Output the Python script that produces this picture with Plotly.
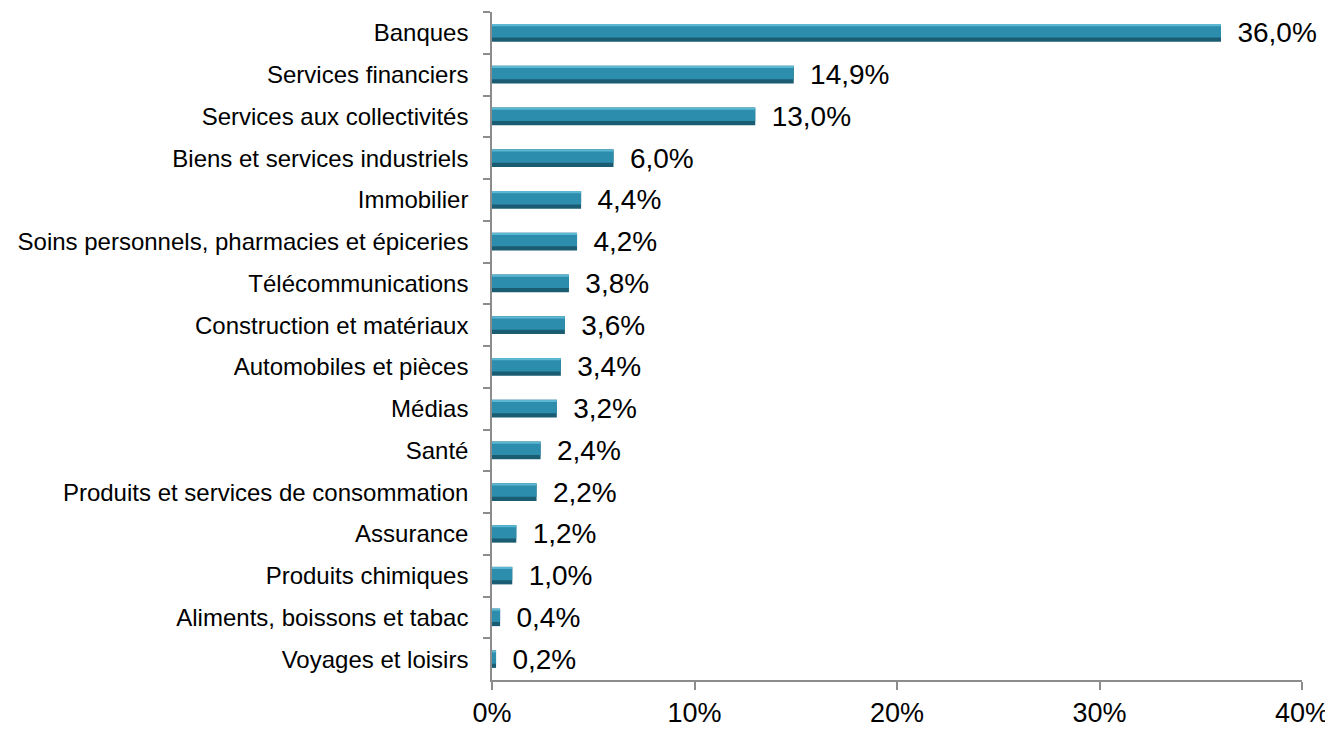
import plotly.graph_objects as go

categories = [
    "Banques",
    "Services financiers",
    "Services aux collectivités",
    "Biens et services industriels",
    "Immobilier",
    "Soins personnels, pharmacies et épiceries",
    "Télécommunications",
    "Construction et matériaux",
    "Automobiles et pièces",
    "Médias",
    "Santé",
    "Produits et services de consommation",
    "Assurance",
    "Produits chimiques",
    "Aliments, boissons et tabac",
    "Voyages et loisirs",
]
values = [36.0, 14.9, 13.0, 6.0, 4.4, 4.2, 3.8, 3.6, 3.4, 3.2, 2.4, 2.2, 1.2, 1.0, 0.4, 0.2]
x_ticks = [0, 10, 20, 30, 40]
x_tick_labels = ["0%", "10%", "20%", "30%", "40%"]

fig = go.Figure()
# dark base (bevel edge)
fig.add_trace(go.Bar(
    y=categories, x=values, orientation="h", width=0.42, offset=-0.21,
    marker=dict(color="#1A5D73", line=dict(width=0)),
    hoverinfo="skip", showlegend=False, cliponaxis=False,
))
# face
fig.add_trace(go.Bar(
    y=categories, x=values, orientation="h", width=0.30, offset=-0.19,
    marker=dict(color="#2C8DAD", line=dict(width=0)),
    hoverinfo="skip", showlegend=False, cliponaxis=False,
))
# top highlight + labels
fig.add_trace(go.Bar(
    y=categories, x=values, orientation="h", width=0.05, offset=-0.21,
    marker=dict(color="#5CB7D3", line=dict(width=0)),
    showlegend=False, cliponaxis=False,
))
# labels (invisible full bar carrying the text so it is centred)
fig.add_trace(go.Bar(
    y=categories, x=values, orientation="h", width=0.42, offset=-0.21,
    marker=dict(color="rgba(0,0,0,0)", line=dict(width=0)),
    texttemplate="\u00a0\u2009%{x:.1f}%", textposition="outside",
    constraintext="none", cliponaxis=False,
    textfont=dict(family="Liberation Sans, Arial, sans-serif", size=28, color="#000000"),
    showlegend=False,
))

fig.update_layout(
    width=1325, height=724,
    barmode="overlay",
    separators=",.",
    plot_bgcolor="white", paper_bgcolor="white",
    margin=dict(l=484, r=30, t=4, b=49),
    font=dict(family="Liberation Sans, Arial, sans-serif", color="#000000"),
    xaxis=dict(
        range=[0, 40], tickvals=x_ticks, ticktext=x_tick_labels,
        showgrid=False, zeroline=False,
        showline=True, linecolor="#8C8C8C", linewidth=1.5,
        ticks="outside", ticklen=8, tickcolor="#8C8C8C", tickwidth=1.5,
        ticklabelstandoff=0,
        tickfont=dict(size=27),
    ),
    yaxis=dict(
        autorange="reversed", showgrid=False, zeroline=False,
        showline=True, linecolor="#8C8C8C", linewidth=1.5,
        ticks="outside", ticklen=7, tickcolor="#8C8C8C", tickwidth=1.5,
        tickson="boundaries", ticklabelstandoff=17,
        tickfont=dict(size=24),
    ),
)

fig.write_html("out.html")
